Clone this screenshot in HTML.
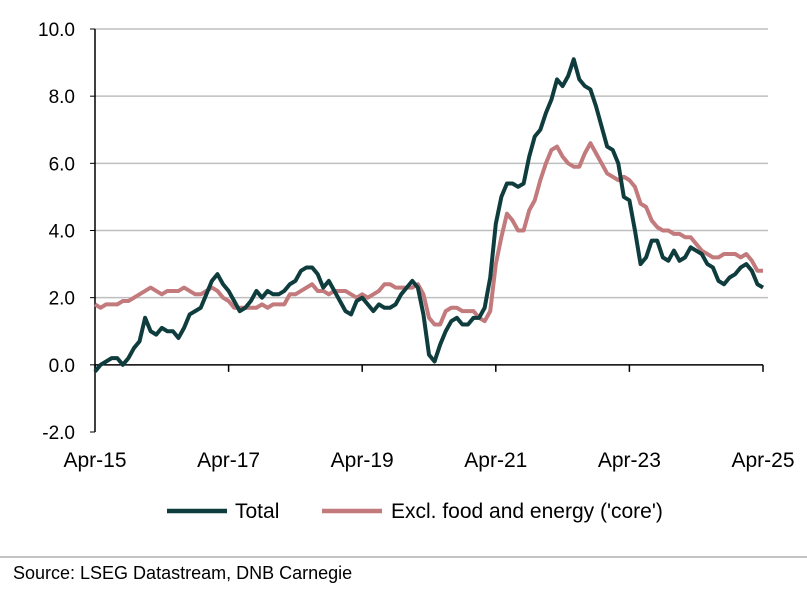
<!DOCTYPE html>
<html><head><meta charset="utf-8"><style>
body{margin:0;background:#fff;font-family:"Liberation Sans",Arial,sans-serif}
svg text{font-family:"Liberation Sans",Arial,sans-serif}
</style></head><body>
<svg id="chart" width="807" height="589" viewBox="0 0 807 589" xmlns="http://www.w3.org/2000/svg">
<g id="grid"></g><g id="axes"></g><g id="series"></g>
<g>
<line x1="167" y1="511" x2="227" y2="511" stroke="#0f3d3e" stroke-width="4.5"/>
<text x="235" y="518" font-size="21" fill="#000">Total</text>
<line x1="322" y1="511" x2="382" y2="511" stroke="#c27a7c" stroke-width="4.5"/>
<text x="391" y="518" font-size="21" fill="#000">Excl. food and energy ('core')</text>
</g>
<line x1="0" y1="557" x2="807" y2="557" stroke="#888" stroke-width="1"/>
<text x="13" y="579" font-size="18" fill="#000">Source: LSEG Datastream, DNB Carnegie</text>
</svg>
<script>
const xTickLabels=["Apr-15","Apr-17","Apr-19","Apr-21","Apr-23","Apr-25"];
const yTicks=[-2,0,2,4,6,8,10];
const total=[-0.2,0.0,0.1,0.2,0.2,0.0,0.2,0.5,0.7,
1.4,1.0,0.9,1.1,1.0,1.0,0.8,1.1,1.5,1.6,1.7,2.1,
2.5,2.7,2.4,2.2,1.9,1.6,1.7,1.9,2.2,2.0,2.2,2.1,
2.1,2.2,2.4,2.5,2.8,2.9,2.9,2.7,2.3,2.5,2.2,1.9,
1.6,1.5,1.9,2.0,1.8,1.6,1.8,1.7,1.7,1.8,2.1,2.3,
2.5,2.3,1.5,0.3,0.1,0.6,1.0,1.3,1.4,1.2,1.2,1.4,
1.4,1.7,2.6,4.2,5.0,5.4,5.4,5.3,5.4,6.2,6.8,7.0,
7.5,7.9,8.5,8.3,8.6,9.1,8.5,8.3,8.2,7.7,7.1,6.5,
6.4,6.0,5.0,4.9,4.0,3.0,3.2,3.7,3.7,3.2,3.1,3.4,
3.1,3.2,3.5,3.4,3.3,3.0,2.9,2.5,2.4,2.6,2.7,2.9,
3.0,2.8,2.4,2.3];
const core=[1.8,1.7,1.8,1.8,1.8,1.9,1.9,2.0,2.1,
2.2,2.3,2.2,2.1,2.2,2.2,2.2,2.3,2.2,2.1,2.1,2.2,
2.3,2.2,2.0,1.9,1.7,1.7,1.7,1.7,1.7,1.8,1.7,1.8,
1.8,1.8,2.1,2.1,2.2,2.3,2.4,2.2,2.2,2.1,2.2,2.2,
2.2,2.1,2.0,2.1,2.0,2.1,2.2,2.4,2.4,2.3,2.3,2.3,
2.3,2.4,2.1,1.4,1.2,1.2,1.6,1.7,1.7,1.6,1.6,1.6,
1.4,1.3,1.6,3.0,3.8,4.5,4.3,4.0,4.0,4.6,4.9,5.5,
6.0,6.4,6.5,6.2,6.0,5.9,5.9,6.3,6.6,6.3,6.0,5.7,
5.6,5.5,5.6,5.5,5.3,4.8,4.7,4.3,4.1,4.0,4.0,3.9,
3.9,3.8,3.8,3.6,3.4,3.3,3.2,3.2,3.3,3.3,3.3,3.2,
3.3,3.1,2.8,2.8];
const NS="http://www.w3.org/2000/svg";
const X0=95,X1=763,Y10=29,Ym2=432;
function xs(i){return X0+(X1-X0)*i/120;}
function ys(v){return Ym2-(v+2)/12*(Ym2-Y10);}
function mk(t,a,p){const e=document.createElementNS(NS,t);for(const k in a)e.setAttribute(k,a[k]);p.appendChild(e);return e;}
const grid=document.getElementById('grid'),axes=document.getElementById('axes'),ser=document.getElementById('series');
yTicks.forEach(v=>{
 if(v>0){const l=mk('line',{x1:X0,x2:X1+5,y1:ys(v),y2:ys(v),stroke:'#bfbfbf','stroke-width':1.5},grid);
 
 }
 const tk=mk('line',{x1:X0-5,x2:X0,y1:ys(v),y2:ys(v),stroke:'#000'},axes);
 
 
 const t=mk('text',{x:75,y:ys(v)+7,'text-anchor':'end','font-size':19},axes);
 t.textContent=v.toFixed(1);
 
 
});
const ya=mk('line',{x1:X0,x2:X0,y1:Y10,y2:Ym2,stroke:'#000','stroke-width':1.5},axes);


const xa=mk('line',{x1:X0,x2:X1,y1:ys(0),y2:ys(0),stroke:'#000','stroke-width':1.5},axes);


xTickLabels.forEach((s,k)=>{
 const x=xs(k*24);
 const tk=mk('line',{x1:x,x2:x,y1:ys(0),y2:ys(0)+7,stroke:'#000','stroke-width':1.5},axes);
 
 
 const t=mk('text',{x:x,y:467,'text-anchor':'middle','font-size':21},axes);
 t.textContent=s;
 
 
});
function line(arr,color,name){
 const p=mk('polyline',{points:arr.map((v,i)=>xs(i)+','+ys(v)).join(' '),fill:'none',stroke:color,'stroke-width':4,'stroke-linejoin':'round'},ser);
 
 
}
line(core,'#c27a7c','series-core');
line(total,'#0f3d3e','series-total');
</script>
</body></html>
